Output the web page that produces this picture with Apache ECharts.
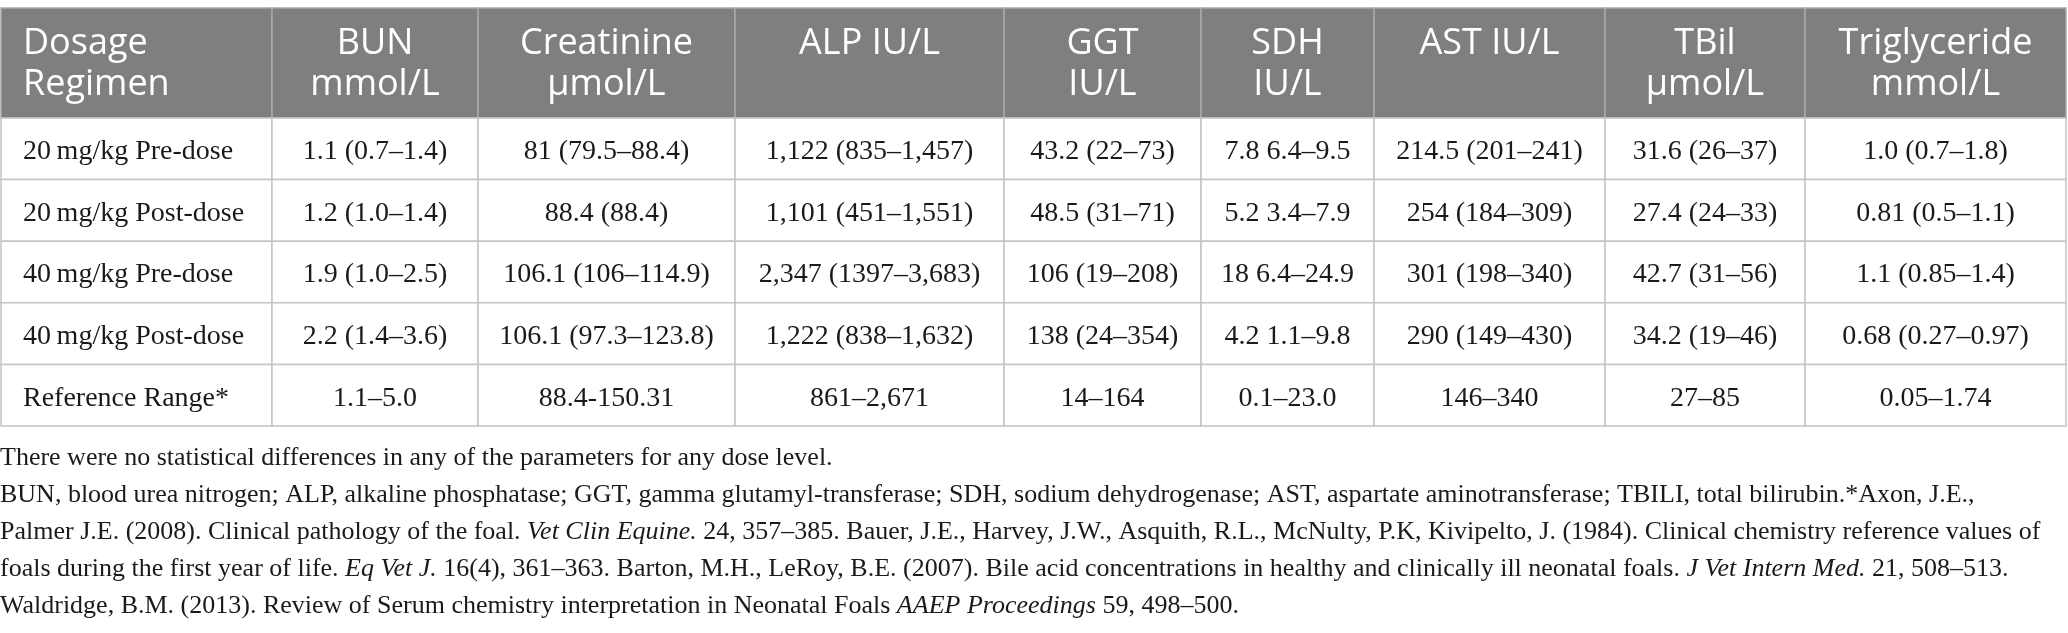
<!DOCTYPE html>
<html>
<head>
<meta charset="utf-8">
<script src="https://cdn.jsdelivr.net/npm/echarts@6/dist/echarts.min.js"></script>
<style>
  html, body { margin: 0; padding: 0; background: #ffffff; }
  #main { width: 2068px; height: 633px; }
</style>
</head>
<body>
<div id="main"></div>
<script>
// column headers
var colLabels = ['Dosage\nRegimen', 'BUN\nmmol/L', 'Creatinine\nμmol/L', 'ALP IU/L', 'GGT\nIU/L',
                 'SDH\nIU/L', 'AST IU/L', 'TBil\nμmol/L', 'Triglyceride\nmmol/L'];
// row labels
var rowLabels = ['20\u2009mg/kg Pre-dose', '20\u2009mg/kg Post-dose', '40\u2009mg/kg Pre-dose',
                 '40\u2009mg/kg Post-dose', 'Reference Range*'];
// values per parameter
var bun          = ['1.1 (0.7–1.4)', '1.2 (1.0–1.4)', '1.9 (1.0–2.5)', '2.2 (1.4–3.6)', '1.1–5.0'];
var creatinine   = ['81 (79.5–88.4)', '88.4 (88.4)', '106.1 (106–114.9)', '106.1 (97.3–123.8)', '88.4-150.31'];
var alp          = ['1,122 (835–1,457)', '1,101 (451–1,551)', '2,347 (1397–3,683)', '1,222 (838–1,632)', '861–2,671'];
var ggt          = ['43.2 (22–73)', '48.5 (31–71)', '106 (19–208)', '138 (24–354)', '14–164'];
var sdh          = ['7.8 6.4–9.5', '5.2 3.4–7.9', '18 6.4–24.9', '4.2 1.1–9.8', '0.1–23.0'];
var ast          = ['214.5 (201–241)', '254 (184–309)', '301 (198–340)', '290 (149–430)', '146–340'];
var tbil         = ['31.6 (26–37)', '27.4 (24–33)', '42.7 (31–56)', '34.2 (19–46)', '27–85'];
var triglyceride = ['1.0 (0.7–1.8)', '0.81 (0.5–1.1)', '1.1 (0.85–1.4)', '0.68 (0.27–0.97)', '0.05–1.74'];

// footnote lines, [text, italic]
var notes = [
  [['There were no statistical differences in any of the parameters for any dose level.', 0]],
  [['BUN, blood urea nitrogen; ALP, alkaline phosphatase; GGT, gamma glutamyl-transferase; SDH, sodium dehydrogenase; AST, aspartate aminotransferase; TBILI, total bilirubin.*Axon, J.E.,', 0]],
  [['Palmer J.E. (2008). Clinical pathology of the foal. ', 0], ['Vet Clin Equine.', 1],
   [' 24, 357–385. Bauer, J.E., Harvey, J.W., Asquith, R.L., McNulty, P.K, Kivipelto, J. (1984). Clinical chemistry reference values of', 0]],
  [['foals during the first year of life. ', 0], ['Eq Vet J.', 1],
   [' 16(4), 361–363. Barton, M.H., LeRoy, B.E. (2007). Bile acid concentrations in healthy and clinically ill neonatal foals. ', 0],
   ['J Vet Intern Med.', 1], [' 21, 508–513.', 0]],
  [['Waldridge, B.M. (2013). Review of Serum chemistry interpretation in Neonatal Foals ', 0], ['AAEP Proceedings', 1], [' 59, 498–500.', 0]]
];

// layout
var colWidths = [271, 206, 257, 269, 197, 173, 231, 200, 261];
var tableLeft = 1, tableTop = 8, headH = 110, rowH = 61.6;
var noteTop = 457, noteGap = 37;

var columns = [rowLabels, bun, creatinine, alp, ggt, sdh, ast, tbil, triglyceride];

var colEdges = [tableLeft];
colWidths.forEach(function (w, i) { colEdges.push(colEdges[i] + w); });
var rowEdges = [tableTop, tableTop + headH];
rowLabels.forEach(function (r, i) { rowEdges.push(rowEdges[i + 1] + rowH); });

var cells = [];
for (var r = 0; r <= rowLabels.length; r++) {
  for (var c = 0; c < columns.length; c++) {
    cells.push([c, r]);
  }
}

var myChart = echarts.init(document.getElementById('main'));

function renderCell(params, api) {
  var c = api.value(0), r = api.value(1);
  var p0 = api.coord([colEdges[c], rowEdges[r]]);
  var p1 = api.coord([colEdges[c + 1], rowEdges[r + 1]]);
  var x = p0[0], y = p0[1], w = p1[0] - p0[0], h = p1[1] - p0[1];
  var head = r === 0;
  var txt = head ? colLabels[c] : columns[c][r - 1];
  var left = c === 0;
  return {
    type: 'group',
    children: [
      {
        type: 'rect',
        shape: { x: x, y: y, width: w, height: h },
        style: { fill: head ? '#7f7f7f' : '#ffffff', stroke: head ? '#a9a9a9' : '#c4c4c4', lineWidth: 1.5 }
      },
      {
        type: 'text',
        style: {
          text: txt,
          x: left ? x + 22 : x + w / 2,
          y: head ? y + 15 : y + h / 2 + 3,
          align: left ? 'left' : 'center',
          verticalAlign: head ? 'top' : 'middle',
          fill: head ? '#ffffff' : '#1a1a1a',
          font: head ? '36px "Open Sans"' : '28px "Liberation Serif"',
          lineHeight: head ? 41 : 30
        }
      }
    ]
  };
}

var noteGraphics = notes.map(function (line, i) {
  var s = line.map(function (seg) {
    return '{' + (seg[1] ? 'i' : 'n') + '|' + seg[0] + '}';
  }).join('');
  return {
    type: 'text',
    left: 0,
    top: noteTop + i * noteGap - 12,
    style: {
      text: s,
      rich: {
        n: { font: '26px "Liberation Serif"', fill: '#1a1a1a' },
        i: { font: 'italic 26px "Liberation Serif"', fill: '#1a1a1a' }
      }
    }
  };
});

var option = {
  animation: false,
  grid: { left: 0, top: 0, width: 2068, height: 633 },
  xAxis: { type: 'value', min: 0, max: 2068, show: false },
  yAxis: { type: 'value', min: 0, max: 633, inverse: true, show: false },
  graphic: noteGraphics,
  series: [{
    type: 'custom',
    renderItem: renderCell,
    data: cells,
    silent: true
  }]
};

myChart.setOption(option);
</script>
</body>
</html>
